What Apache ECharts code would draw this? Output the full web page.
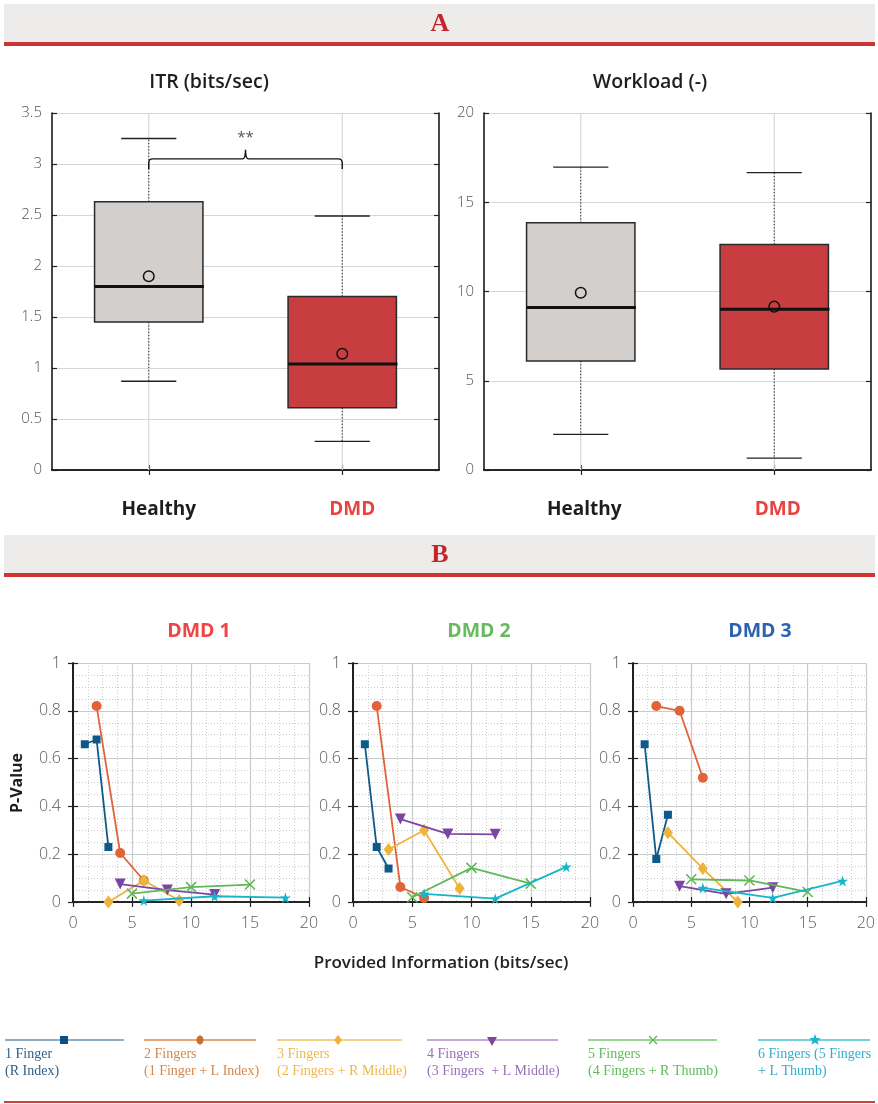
<!DOCTYPE html>
<html>
<head>
<meta charset="utf-8">
<script src="https://cdn.jsdelivr.net/npm/echarts@6/dist/echarts.min.js"></script>
<style>
  html, body { margin: 0; padding: 0; background: #ffffff; }
  #chart { width: 878px; height: 1104px; }
</style>
</head>
<body>
<div id="chart"></div>
<script>
// ---------------- data ----------------
const groups = ['Healthy', 'DMD'];

// box statistics: [lower whisker, Q1, median, Q3, upper whisker]
const itrHealthy = [0.87, 1.45, 1.80, 2.63, 3.25];
const itrDMD = [0.28, 0.61, 1.04, 1.70, 2.49];
const itrMeans = [1.90, 1.14];
const workloadHealthy = [2.0, 6.1, 9.1, 13.85, 16.97];
const workloadDMD = [0.67, 5.66, 9.0, 12.64, 16.66];
const workloadMeans = [9.93, 9.15];

// significance bracket on the ITR plot: [leg end, bar, tip, label height]
const itrBracket = [2.95, 3.05, 3.14, 3.26];
const itrBracketLabel = '**';

const fingerNames = ['1 Finger', '2 Fingers', '3 Fingers', '4 Fingers', '5 Fingers', '6 Fingers (5 Fingers'];
const fingerNotes = ['(R Index)', '(1 Finger + L Index)', '(2 Fingers + R Middle)', '(3 Fingers  + L Middle)', '(4 Fingers + R Thumb)', '+ L Thumb)'];

// provided information (bits/sec) for each finger configuration
const fingerX = [
  [1, 2, 3],
  [2, 4, 6],
  [3, 6, 9],
  [4, 8, 12],
  [5, 10, 15],
  [6, 12, 18]
];
// p-values per subject, one row per finger configuration
const dmd1P = [
  [0.66, 0.68, 0.23],
  [0.82, 0.205, 0.09],
  [0.0, 0.09, 0.006],
  [0.075, 0.05, 0.031],
  [0.035, 0.062, 0.073],
  [0.006, 0.024, 0.018]
];
const dmd2P = [
  [0.66, 0.23, 0.14],
  [0.82, 0.063, 0.017],
  [0.22, 0.30, 0.056],
  [0.347, 0.285, 0.283],
  [0.02, 0.143, 0.077],
  [0.034, 0.014, 0.147]
];
const dmd3P = [
  [0.66, 0.18, 0.365],
  [0.82, 0.80, 0.52],
  [0.29, 0.14, 0.0],
  [0.066, 0.034, 0.06],
  [0.095, 0.09, 0.042],
  [0.059, 0.017, 0.088]
];
const subjects = ['DMD 1', 'DMD 2', 'DMD 3'];
const subjectP = [dmd1P, dmd2P, dmd3P];

// ---------------- styling ----------------
const FONT = '"Open Sans", "Noto Sans", sans-serif';
const SERIF = '"Liberation Serif", "DejaVu Serif", serif';
const seriesColors = ['#0d5a89', '#e0643a', '#efb23b', '#7a45a4', '#61b858', '#17b5c9'];
const legendLineColors = ['#6a91b0', '#dc8a4c', '#f1c060', '#b08ccb', '#74c96f', '#47c0d3'];
const legendMarkColors = ['#0d4f80', '#c8702e', '#efb23b', '#7b46a0', '#5cb85c', '#1ab4c8'];
const legendTextColors = ['#2f5f88', '#d2884f', '#eeb84f', '#9a70b8', '#5dbd5a', '#33aecb'];
const subjectColors = ['#ee4444', '#66bb5e', '#2d62b0'];
const STAR = 'path://M50,0 L61,35 L98,35 L68,57 L79,91 L50,70 L21,91 L32,57 L2,35 L39,35 Z';
const CROSS = 'path://M0,0 L10,10 M10,0 L0,10';
const symbols = ['rect', 'circle', 'diamond', 'triangle', CROSS, STAR];
const symbolSizes = [8, 10, [10, 13], 11, 10, 11];

const grids = [
  { left: 52, top: 113, width: 387, height: 357 },
  { left: 484, top: 113, width: 387, height: 357 },
  { left: 73, top: 663, width: 236, height: 239 },
  { left: 353, top: 663, width: 237, height: 239 },
  { left: 633, top: 663, width: 236, height: 239 }
];

const frameLine = { show: true, lineStyle: { color: '#1a1a1a', width: 1.6 } };
const innerTick = { show: true, inside: true, length: 5, lineStyle: { color: '#222', width: 1.2 } };
const gridLineA = { show: true, lineStyle: { color: '#d3d7d7', width: 1.2 } };

const xAxes = [], yAxes = [];

// box plot axes; group labels sit slightly right of the category centre
[[0, 3.5, 0.5, 20], [0, 20, 5, 7]].forEach((r, g) => {
  const pad = [0, 0, 0, r[3]];
  xAxes.push({
    gridIndex: g, type: 'category', data: groups, position: 'bottom',
    axisLine: frameLine, axisTick: Object.assign({ alignWithLabel: true }, innerTick),
    splitLine: { show: false },
    axisLabel: {
      margin: 30,
      formatter: v => v === 'Healthy' ? '{h|Healthy}' : '{d|DMD}',
      rich: {
        h: { color: '#1e1e1e', fontSize: 19, fontWeight: 'bold', fontFamily: FONT, padding: pad },
        d: { color: '#e8433e', fontSize: 19, fontWeight: 'bold', fontFamily: FONT, padding: pad }
      }
    }
  });
  xAxes.push({
    gridIndex: g, type: 'category', data: groups, position: 'top',
    axisLine: frameLine, axisTick: Object.assign({ alignWithLabel: true }, innerTick),
    axisLabel: { show: false }, splitLine: { show: false }
  });
  yAxes.push({
    gridIndex: g, type: 'value', min: r[0], max: r[1], interval: r[2], position: 'left',
    axisLine: frameLine, axisTick: innerTick, splitLine: gridLineA,
    axisLabel: { color: '#555', fontSize: 15, fontFamily: FONT, fontWeight: 300, margin: 10 }
  });
  yAxes.push({
    gridIndex: g, type: 'value', min: r[0], max: r[1], interval: r[2], position: 'right',
    axisLine: frameLine, axisTick: innerTick, splitLine: { show: false }, axisLabel: { show: false }
  });
});

// p-value axes
const majorB = { show: true, lineStyle: { color: '#c6cccc', width: 1.2 } };
const minorB = { show: true, lineStyle: { color: '#cbcbcb', width: 1, type: [1, 2] } };
[2, 3, 4].forEach(g => {
  xAxes.push({
    gridIndex: g, type: 'value', min: 0, max: 20, interval: 5, position: 'bottom',
    axisLine: frameLine, axisTick: innerTick,
    minorTick: { show: false, splitNumber: 4 }, minorSplitLine: minorB, splitLine: majorB,
    axisLabel: { color: '#5a5a5a', fontSize: 16, fontFamily: FONT, fontWeight: 300, margin: 13 }
  });
  xAxes.push({
    gridIndex: g, type: 'value', min: 0, max: 20, interval: 5, position: 'top',
    axisLine: frameLine, axisTick: innerTick, axisLabel: { show: false }, splitLine: { show: false }
  });
  yAxes.push({
    gridIndex: g, type: 'value', min: 0, max: 1, interval: 0.2, position: 'left',
    axisLine: frameLine, axisTick: innerTick,
    minorTick: { show: false, splitNumber: 4 }, minorSplitLine: minorB, splitLine: majorB,
    axisLabel: { color: '#5a5a5a', fontSize: 16, fontFamily: FONT, fontWeight: 300, margin: 12 }
  });
  yAxes.push({
    gridIndex: g, type: 'value', min: 0, max: 1, interval: 0.2, position: 'right',
    axisLine: frameLine, axisTick: innerTick, axisLabel: { show: false }, splitLine: { show: false }
  });
});

// one box + whiskers + mean per category, drawn from the axis scales
function renderBox(params, api) {
  const i = api.value(0);
  const lo = api.coord([i, api.value(1)]);
  const q1 = api.coord([i, api.value(2)]);
  const med = api.coord([i, api.value(3)]);
  const q3 = api.coord([i, api.value(4)]);
  const hi = api.coord([i, api.value(5)]);
  const mean = api.coord([i, api.value(6)]);
  const band = api.size([1, 0])[0];
  const bw = band * 0.56, cw = band * 0.285;
  const x = lo[0];
  const cs = params.coordSys;
  const fill = i === 0 ? '#d3cfcc' : '#c83e40';
  const dotted = { stroke: '#222', lineWidth: 1, lineDash: [1.2, 2] };
  const solid = { stroke: '#222', lineWidth: 1.3 };
  return {
    type: 'group',
    children: [
      { type: 'line', shape: { x1: x, y1: cs.y, x2: x, y2: cs.y + cs.height }, style: { stroke: '#d3d7d7', lineWidth: 1.2 } },
      { type: 'line', shape: { x1: x, y1: q3[1], x2: x, y2: hi[1] }, style: dotted },
      { type: 'line', shape: { x1: x, y1: q1[1], x2: x, y2: lo[1] }, style: dotted },
      { type: 'line', shape: { x1: x - cw / 2, y1: hi[1], x2: x + cw / 2, y2: hi[1] }, style: solid },
      { type: 'line', shape: { x1: x - cw / 2, y1: lo[1], x2: x + cw / 2, y2: lo[1] }, style: solid },
      { type: 'rect', shape: { x: x - bw / 2, y: q3[1], width: bw, height: q1[1] - q3[1] }, style: { fill: fill, stroke: '#2a2a2a', lineWidth: 1.5 } },
      { type: 'line', shape: { x1: x - bw / 2, y1: med[1], x2: x + bw / 2 + 1, y2: med[1] }, style: { stroke: '#111', lineWidth: 3 } },
      { type: 'circle', shape: { cx: mean[0], cy: mean[1], r: 5.3 }, style: { fill: 'none', stroke: '#111', lineWidth: 1.5 } }
    ]
  };
}

// curly significance bracket joining both groups
function renderBracket(params, api) {
  const a = api.coord([api.value(0), api.value(2)]);
  const b = api.coord([api.value(1), api.value(2)]);
  const bar = api.coord([api.value(0), api.value(3)])[1];
  const tip = api.coord([api.value(0), api.value(4)])[1];
  const lab = api.coord([api.value(0), api.value(5)])[1];
  const ax = a[0], bx = b[0], low = a[1], mx = (ax + bx) / 2;
  const d = 'M' + ax + ',' + low + ' L' + ax + ',' + (bar + 4) + ' Q' + ax + ',' + bar + ' ' + (ax + 4) + ',' + bar +
    ' L' + (mx - 3) + ',' + bar + ' Q' + mx + ',' + bar + ' ' + mx + ',' + tip +
    ' Q' + mx + ',' + bar + ' ' + (mx + 3) + ',' + bar +
    ' L' + (bx - 4) + ',' + bar + ' Q' + bx + ',' + bar + ' ' + bx + ',' + (bar + 4) + ' L' + bx + ',' + low;
  return {
    type: 'group',
    children: [
      { type: 'path', shape: { pathData: d }, style: { fill: 'none', stroke: '#111', lineWidth: 1.4 } },
      { type: 'text', x: mx, y: lab, style: { text: itrBracketLabel, fill: '#555', font: '15px ' + FONT, textAlign: 'center', textVerticalAlign: 'middle' } }
    ]
  };
}

const series = [];
series.push({
  type: 'custom', xAxisIndex: 0, yAxisIndex: 0, renderItem: renderBox, encode: { x: 0, y: [1, 2, 3, 4, 5] },
  data: [[0].concat(itrHealthy, [itrMeans[0]]), [1].concat(itrDMD, [itrMeans[1]])], z: 3, silent: true
});
series.push({
  type: 'custom', xAxisIndex: 0, yAxisIndex: 0, renderItem: renderBracket, encode: { x: 0, y: 2 },
  data: [[0, 1].concat(itrBracket)], z: 4, silent: true
});
series.push({
  type: 'custom', xAxisIndex: 2, yAxisIndex: 2, renderItem: renderBox, encode: { x: 0, y: [1, 2, 3, 4, 5] },
  data: [[0].concat(workloadHealthy, [workloadMeans[0]]), [1].concat(workloadDMD, [workloadMeans[1]])], z: 3, silent: true
});

subjectP.forEach((pRows, s) => {
  const g = 2 + s;
  pRows.forEach((row, f) => {
    const c = seriesColors[f];
    series.push({
      type: 'line', name: fingerNames[f], xAxisIndex: 2 * g, yAxisIndex: 2 * g,
      data: row.map((p, k) => [fingerX[f][k], p]),
      symbol: symbols[f], symbolSize: symbolSizes[f], symbolRotate: f === 3 ? 180 : 0,
      showAllSymbol: true, clip: false,
      lineStyle: { color: c, width: 1.8 },
      itemStyle: f === 4 ? { color: c, borderColor: c, borderWidth: 1.6 } : { color: c },
      z: 3 + f, animation: false
    });
  });
});

// ---------------- headers, titles, legend ----------------
const graphic = [];
function header(y0, letter) {
  graphic.push({ type: 'rect', shape: { x: 4, y: y0, width: 871, height: 38 }, style: { fill: '#eeecea' } });
  graphic.push({ type: 'rect', shape: { x: 4, y: y0 + 38, width: 871, height: 4 }, style: { fill: '#cd3434' } });
  graphic.push({ type: 'text', x: 440, y: y0 + 20, style: { text: letter, fill: '#c4242b', font: 'bold 26px ' + SERIF, textAlign: 'center', textVerticalAlign: 'middle' } });
}
header(4, 'A');
header(535, 'B');

function label(x, y, text, font, fill, rot) {
  graphic.push({ type: 'text', x: x, y: y, rotation: rot || 0, style: { text: text, font: font, fill: fill, textAlign: 'center', textVerticalAlign: 'middle' } });
}
label(209, 82, 'ITR (bits/sec)', '600 19.5px ' + FONT, '#1e1e1e');
label(650, 82, 'Workload (-)', '600 19.5px ' + FONT, '#1e1e1e');
[199, 479, 760].forEach((x, s) => label(x, 631, subjects[s], 'bold 19.5px ' + FONT, subjectColors[s]));
label(17, 783, 'P-Value', 'bold 16px ' + FONT, '#1e1e1e', Math.PI / 2);
label(441, 963, 'Provided Information (bits/sec)', '600 17px ' + FONT, '#222');

// legend entries: [line start, line end, marker x]
const legendSlots = [[5, 124, 64], [144, 256, 200], [277, 402, 338], [427, 558, 492], [588, 717, 653], [758, 870, 815]];
const legendY = 1040;
function legendMarker(f, x, y, c) {
  if (f === 0) return { type: 'rect', shape: { x: x - 4, y: y - 4, width: 8, height: 8 }, style: { fill: c } };
  if (f === 1) return { type: 'ellipse', shape: { cx: x, cy: y, rx: 3.5, ry: 4.5 }, style: { fill: c } };
  if (f === 2) return { type: 'polygon', shape: { points: [[x, y - 5], [x + 4, y], [x, y + 5], [x - 4, y]] }, style: { fill: c } };
  if (f === 3) return { type: 'polygon', shape: { points: [[x - 5, y - 3], [x + 5, y - 3], [x, y + 6]] }, style: { fill: c } };
  if (f === 4) return {
    type: 'group', children: [
      { type: 'line', shape: { x1: x - 4, y1: y - 4, x2: x + 4, y2: y + 4 }, style: { stroke: c, lineWidth: 1.3 } },
      { type: 'line', shape: { x1: x + 4, y1: y - 4, x2: x - 4, y2: y + 4 }, style: { stroke: c, lineWidth: 1.3 } }
    ]
  };
  const pts = [];
  for (let k = 0; k < 10; k++) {
    const r = k % 2 === 0 ? 6 : 2.6;
    const a = -Math.PI / 2 + k * Math.PI / 5;
    pts.push([x + r * Math.cos(a), y + r * Math.sin(a)]);
  }
  return { type: 'polygon', shape: { points: pts }, style: { fill: c } };
}
legendSlots.forEach((s, f) => {
  graphic.push({ type: 'line', shape: { x1: s[0], y1: legendY, x2: s[1], y2: legendY }, style: { stroke: legendLineColors[f], lineWidth: 1.6 } });
  graphic.push(legendMarker(f, s[2], legendY, legendMarkColors[f]));
  graphic.push({ type: 'text', x: s[0], y: legendY + 14, style: { text: fingerNames[f], font: '14px ' + SERIF, fill: legendTextColors[f], textAlign: 'left', textVerticalAlign: 'middle' } });
  graphic.push({ type: 'text', x: s[0], y: legendY + 31, style: { text: fingerNotes[f], font: '14px ' + SERIF, fill: legendTextColors[f], textAlign: 'left', textVerticalAlign: 'middle' } });
});
graphic.push({ type: 'rect', shape: { x: 4, y: 1101, width: 871, height: 2 }, style: { fill: '#c84444' } });

const chart = echarts.init(document.getElementById('chart'), null, { renderer: 'canvas', width: 878, height: 1104 });
chart.setOption({
  backgroundColor: '#ffffff',
  animation: false,
  grid: grids.map(g => Object.assign({ containLabel: false }, g)),
  xAxis: xAxes,
  yAxis: yAxes,
  series: series,
  graphic: graphic
});
</script>
</body>
</html>
